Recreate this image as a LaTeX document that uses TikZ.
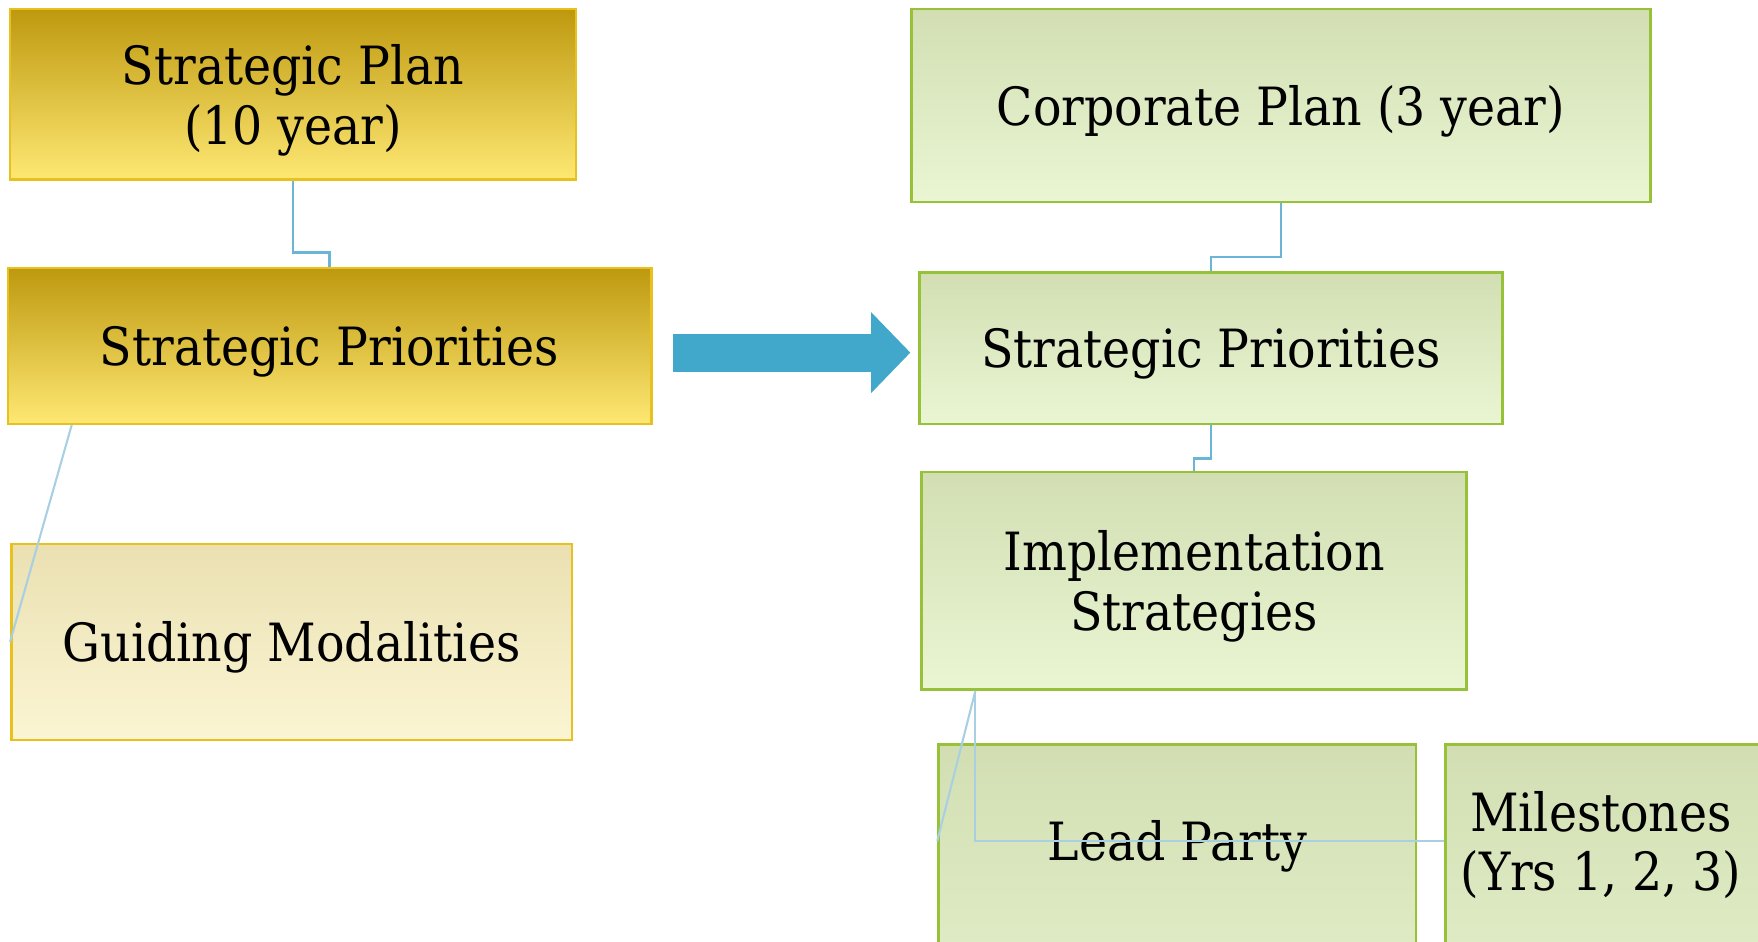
\documentclass[tikz,border=0pt]{standalone}
\usepackage{fontspec}
\setmainfont{DejaVu Serif Condensed}
\usetikzlibrary{calc,arrows.meta}
\definecolor{golddark}{HTML}{BE990F}
\definecolor{goldlight}{HTML}{FEE873}
\definecolor{goldline}{HTML}{E9C11E}
\definecolor{palegoldtop}{HTML}{EAE0B2}
\definecolor{palegoldbot}{HTML}{FBF5D3}
\definecolor{greentop}{HTML}{D2DEB2}
\definecolor{greenbot}{HTML}{EAF6D3}
\definecolor{greenline}{HTML}{98C13A}
\definecolor{linkblue}{HTML}{6BB5D6}
\definecolor{linkpale}{HTML}{A9D0E2}
\definecolor{arrowblue}{HTML}{41A7CB}
\begin{document}
\begin{tikzpicture}[x=0.011212cm,y=-0.011212cm,
    every node/.style={font=\fontsize{15}{17}\selectfont, align=center, inner sep=0pt, text depth=0pt},
    goldbox/.style={draw=goldline, line width=0.7pt, top color=golddark, bottom color=goldlight},
    palebox/.style={draw=goldline, line width=0.7pt, top color=palegoldtop, bottom color=palegoldbot},
    greenbox/.style={draw=greenline, line width=0.7pt, top color=greentop, bottom color=greenbot},
    link/.style={draw=linkblue, line width=0.7pt},
    paleLink/.style={draw=linkpale, line width=0.6pt}]
    \useasboundingbox (0,0) rectangle (1568,840);
    \clip (0,0) rectangle (1568,840);
    % left side: 10 year plan
    \node[goldbox, minimum width=5.662cm, minimum height=1.704cm] (plan) at (261.5,84) {Strategic Plan\\(10 year)};
    \node[goldbox, minimum width=6.436cm, minimum height=1.558cm] (prio) at (294,308.5) {Strategic Priorities};
    \node[palebox, minimum width=5.606cm, minimum height=1.962cm] (modal) at (260,572.5) {Guiding Modalities};
    % right side: 3 year plan
    \node[greenbox, minimum width=7.389cm, minimum height=1.928cm] (corp) at (1142.5,94) {Corporate Plan (3 year)};
    \node[greenbox, minimum width=5.830cm, minimum height=1.514cm] (cprio) at (1080,310.5) {Strategic Priorities};
    \node[greenbox, minimum width=5.449cm, minimum height=2.175cm] (impl) at (1065,518) {Implementation\\Strategies};
    \node[greenbox, minimum width=4.776cm, minimum height=3.767cm] (lead) at (1050,832) {};
    \node[greenbox, minimum width=5.729cm, minimum height=3.767cm] (miles) at (1544.5,832) {};
    \node (leadtxt) at (1050,750) {Lead Party};
    \node (milestxt) at (1428,750) {Milestones\\(Yrs 1, 2, 3)};
    % connectors
    \draw[link] (plan.south) -- ++(0,64) -| (prio.north);
    \draw[paleLink] ($(prio.south west)+(58,0)$) -- (modal.west);
    \draw[link] (corp.south) -- ++(0,48) -| (cprio.north);
    \draw[link] (cprio.south) -- ++(0,30) -| (impl.north);
    \draw[paleLink] ($(impl.south west)+(49,0)$) -- (lead.west |- milestxt);
    \draw[paleLink] ($(impl.south west)+(49,0)$) |- (miles.west |- milestxt);
    % big arrow
    \draw[arrowblue, line width=0.381cm, -{Triangle[length=0.392cm,width=0.785cm]}]
        ($(prio.east)+(18,6)$) -- ($(cprio.west)+(-7,4)$);
\end{tikzpicture}
\end{document}
